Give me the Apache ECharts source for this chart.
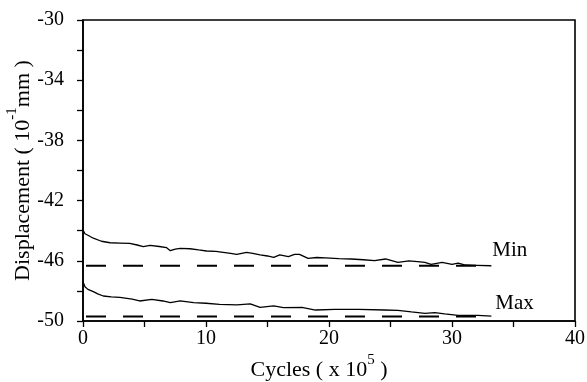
<!DOCTYPE html>
<html>
<head>
<meta charset="utf-8">
<script src="https://cdn.jsdelivr.net/npm/echarts@6/dist/echarts.min.js"></script>
<style>
  html, body { margin: 0; padding: 0; background: #fff; }
  #chart { width: 587px; height: 382px; }
</style>
</head>
<body>
<div id="chart"></div>
<script>
// Displacement history of the minimum and maximum load peaks
const minCycles = [0, 0.16, 0.4, 0.84, 1.5, 2.2, 3.0, 3.8, 4.4, 4.9, 5.45, 6.2, 6.8, 7.1, 7.5, 7.9, 8.7, 9.4, 10.05, 10.8, 11.4, 12.0, 12.5, 13.3, 13.8, 14.4, 15.0, 15.5, 16.0, 16.7, 17.2, 17.6, 18.3, 19.0, 19.7, 20.8, 21.8, 22.8, 23.7, 24.6, 25.6, 26.5, 27.2, 27.8, 28.3, 29.2, 30.0, 30.5, 31.1, 32.0, 33.2];
const minDisp = [-43.95, -44.2, -44.3, -44.5, -44.7, -44.8, -44.82, -44.84, -44.95, -45.06, -44.97, -45.05, -45.13, -45.33, -45.22, -45.17, -45.2, -45.28, -45.35, -45.38, -45.44, -45.5, -45.57, -45.44, -45.5, -45.61, -45.68, -45.77, -45.61, -45.72, -45.57, -45.57, -45.84, -45.78, -45.8, -45.85, -45.88, -45.93, -45.99, -45.88, -46.1, -46.0, -46.05, -46.1, -46.24, -46.1, -46.24, -46.15, -46.28, -46.3, -46.33];

const maxCycles = [0, 0.16, 0.4, 0.84, 1.2, 1.65, 2.3, 3.0, 4.0, 4.6, 5.6, 6.5, 7.1, 7.9, 9.0, 10.0, 11.1, 12.5, 13.6, 14.4, 15.5, 16.3, 17.8, 18.9, 20.5, 22.4, 24.5, 25.6, 26.7, 27.8, 28.6, 29.4, 30.5, 32.1, 33.2];
const maxDisp = [-47.4, -47.72, -47.9, -48.05, -48.2, -48.34, -48.4, -48.43, -48.54, -48.67, -48.57, -48.67, -48.78, -48.66, -48.78, -48.82, -48.89, -48.93, -48.86, -49.09, -49.0, -49.11, -49.09, -49.27, -49.23, -49.23, -49.27, -49.3, -49.4, -49.49, -49.45, -49.53, -49.62, -49.63, -49.67];

// Asymptotic levels (dashed)
const refCycles = [0, 33.3];
const minLevel = [-46.33, -46.33];
const maxLevel = [-49.7, -49.7];

const seriesNames = ['Min', 'Max'];

const FONT = '"Liberation Serif", "DejaVu Serif", serif';
const zip = (xs, ys) => xs.map((x, i) => [x, ys[i]]);

const chart = echarts.init(document.getElementById('chart'), null, { renderer: 'canvas' });

const axisCommon = {
  nameMoveOverlap: false,
  axisLine: { show: true, lineStyle: { color: '#000', width: 1.6 } },
  axisTick: { show: true, inside: false, length: 6, lineStyle: { color: '#000', width: 1.3 } },
  minorTick: { show: false },
  splitLine: { show: false },
};

// rich styles for axis titles with a raised exponent
const titleRich = (size, supSize, lift) => ({
  n: { fontFamily: FONT, fontSize: size, color: '#000', lineHeight: size + lift, verticalAlign: 'bottom' },
  sup: { fontFamily: FONT, fontSize: supSize, color: '#000', lineHeight: supSize, padding: [0, 0, size + lift - supSize, 0], verticalAlign: 'bottom' }
});

chart.setOption({
  animation: false,
  backgroundColor: '#fff',
  grid: {
    left: 83, right: 12, top: 20, bottom: 61,
    outerBoundsMode: 'none', containLabel: false,
    show: true, borderColor: '#000', borderWidth: 1.6, backgroundColor: 'transparent'
  },
  xAxis: Object.assign({
    type: 'value', min: 0, max: 40, interval: 5,
    name: '{n|Cycles ( x 10}{sup|5}{n| )}',
    nameLocation: 'middle', nameGap: 32,
    nameTextStyle: {
      fontFamily: FONT, fontSize: 22, color: '#000', padding: [0, 20, 0, 0],
      rich: titleRich(22, 15, 6)
    },
    axisLabel: {
      fontFamily: FONT, fontSize: 20, color: '#000', margin: 8,
      formatter: v => (v % 10 === 0 ? String(v) : '')
    }
  }, axisCommon),
  yAxis: Object.assign({
    type: 'value', min: -50, max: -30, interval: 2,
    name: '{n|Displacement ( 10}{sup|-1}{n|mm )}',
    nameLocation: 'middle', nameGap: 49, nameRotate: 90,
    nameTextStyle: {
      fontFamily: FONT, fontSize: 22, color: '#000',
      rich: titleRich(22, 15, 7)
    },
    axisLabel: {
      fontFamily: FONT, fontSize: 20, color: '#000', margin: 19,
      formatter: v => ((v + 50) % 4 === 0 ? String(v) : '')
    }
  }, axisCommon),
  series: [
    {
      name: seriesNames[0], type: 'line', data: zip(minCycles, minDisp),
      symbol: 'none', lineStyle: { color: '#000', width: 1.3 },
      endLabel: {
        show: true, formatter: seriesNames[0], distance: 0, offset: [1, -15],
        fontFamily: FONT, fontSize: 21, color: '#000'
      }
    },
    {
      name: seriesNames[1], type: 'line', data: zip(maxCycles, maxDisp),
      symbol: 'none', lineStyle: { color: '#000', width: 1.3 },
      endLabel: {
        show: true, formatter: seriesNames[1], distance: 0, offset: [4, -13],
        fontFamily: FONT, fontSize: 21, color: '#000'
      }
    },
    {
      name: 'minLevel', type: 'line', data: zip(refCycles, minLevel),
      symbol: 'none', silent: true,
      lineStyle: { color: '#000', width: 1.8, type: [20, 17], dashOffset: -3 }
    },
    {
      name: 'maxLevel', type: 'line', data: zip(refCycles, maxLevel),
      symbol: 'none', silent: true,
      lineStyle: { color: '#000', width: 1.8, type: [20, 17], dashOffset: -3 }
    }
  ]
});
</script>
</body>
</html>
